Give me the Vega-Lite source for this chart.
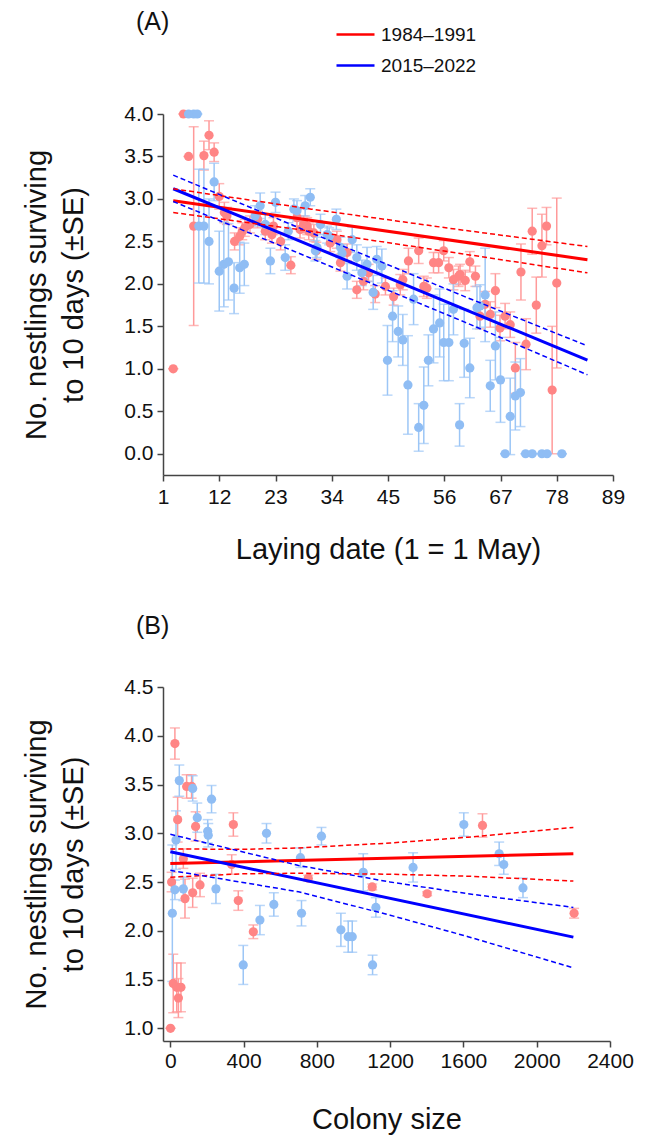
{
  "$schema": "https://vega.github.io/schema/vega-lite/v6.json",
  "background": "white",
  "padding": {"left": 22, "top": 10, "right": 10, "bottom": 5},
  "bounds": "flush",
  "spacing": 212,
  "resolve": {"scale": {"color": "independent"}},
  "config": {
    "font": "Liberation Sans",
    "view": {"stroke": null},
    "axis": {
      "grid": false,
      "domainColor": "#444",
      "tickColor": "#444",
      "domainWidth": 1.5,
      "tickWidth": 1.5,
      "tickSize": 6,
      "labelFont": "Liberation Sans",
      "labelFontSize": 21,
      "labelColor": "#111",
      "labelPadding": 4,
      "labelOverlap": false,
      "labelFlush": false,
      "titleFont": "Liberation Sans",
      "titleFontSize": 29,
      "titleFontWeight": "normal",
      "titleColor": "#111"
    },
    "title": {"font": "Liberation Sans", "fontSize": 25, "fontWeight": "normal", "anchor": "start", "frame": "group", "baseline": "middle", "color": "#111"}
  },
  "datasets": {
    "ap": [
      {"p":"r","d":3,"n":1.0,"se":0},{"p":"r","d":5,"n":4.0,"se":0},{"p":"r","d":6,"n":3.5,"se":0},{"p":"r","d":7,"n":2.68,"se":1.17},
      {"p":"r","d":9,"n":3.51,"se":0.17},{"p":"r","d":10,"n":3.75,"se":0.17},{"p":"r","d":11,"n":3.55,"se":0.11},{"p":"r","d":12,"n":3.03,"se":0.15},
      {"p":"r","d":13,"n":2.84,"se":0.12},{"p":"r","d":13.5,"n":2.8,"se":0.1},{"p":"r","d":15,"n":2.5,"se":0.1},{"p":"r","d":16,"n":2.56,"se":0.1},
      {"p":"r","d":16.5,"n":2.62,"se":0.1},{"p":"r","d":17,"n":2.66,"se":0.1},{"p":"r","d":18,"n":2.7,"se":0.1},{"p":"r","d":19.5,"n":2.76,"se":0.1},
      {"p":"r","d":21,"n":2.62,"se":0.1},{"p":"r","d":22.3,"n":2.58,"se":0.1},{"p":"r","d":22.6,"n":2.68,"se":0.1},{"p":"r","d":24,"n":2.5,"se":0.1},
      {"p":"r","d":26,"n":2.22,"se":0.1},{"p":"r","d":27.2,"n":2.78,"se":0.1},{"p":"r","d":27.8,"n":2.64,"se":0.1},{"p":"r","d":28.5,"n":2.7,"se":0.1},
      {"p":"r","d":29.2,"n":2.68,"se":0.1},{"p":"r","d":29.5,"n":2.62,"se":0.1},{"p":"r","d":30.5,"n":2.6,"se":0.1},{"p":"r","d":31,"n":2.39,"se":0.1},
      {"p":"r","d":33.7,"n":2.48,"se":0.1},{"p":"r","d":35,"n":2.52,"se":0.1},{"p":"r","d":35.7,"n":2.25,"se":0.1},{"p":"r","d":37,"n":2.37,"se":0.1},
      {"p":"r","d":38.9,"n":1.93,"se":0.1},{"p":"r","d":40.2,"n":2.03,"se":0.1},{"p":"r","d":41.2,"n":2.13,"se":0.1},{"p":"r","d":42.5,"n":1.88,"se":0.1},
      {"p":"r","d":44.5,"n":1.97,"se":0.1},{"p":"r","d":46.1,"n":1.85,"se":0.1},{"p":"r","d":47.4,"n":1.99,"se":0.12},{"p":"r","d":47.9,"n":2.05,"se":0.12},
      {"p":"r","d":49,"n":2.27,"se":0.15},{"p":"r","d":51,"n":2.39,"se":0.15},{"p":"r","d":52,"n":1.97,"se":0.12},{"p":"r","d":52.6,"n":1.95,"se":0.12},
      {"p":"r","d":53.9,"n":2.25,"se":0.12},{"p":"r","d":54.9,"n":2.25,"se":0.12},{"p":"r","d":55.9,"n":2.39,"se":0.12},{"p":"r","d":56.9,"n":2.19,"se":0.12},
      {"p":"r","d":57.8,"n":2.05,"se":0.12},{"p":"r","d":58.8,"n":2.09,"se":0.12},{"p":"r","d":59.1,"n":2.11,"se":0.12},{"p":"r","d":60.1,"n":2.04,"se":0.12},
      {"p":"r","d":61,"n":2.26,"se":0.12},{"p":"r","d":62.1,"n":2.09,"se":0.12},{"p":"r","d":63,"n":1.62,"se":0.15},{"p":"r","d":64,"n":1.76,"se":0.15},
      {"p":"r","d":65,"n":1.64,"se":0.15},{"p":"r","d":66,"n":1.92,"se":0.2},{"p":"r","d":66.9,"n":1.48,"se":0.15},{"p":"r","d":67.9,"n":1.62,"se":0.15},
      {"p":"r","d":68.9,"n":1.52,"se":0.15},{"p":"r","d":69.9,"n":1.01,"se":0.3},{"p":"r","d":71,"n":2.14,"se":0.33},{"p":"r","d":72,"n":1.29,"se":0.3},
      {"p":"r","d":73.2,"n":2.62,"se":0.27},{"p":"r","d":74,"n":1.75,"se":0.33},{"p":"r","d":75.1,"n":2.45,"se":0.37},{"p":"r","d":76,"n":2.68,"se":0.22},
      {"p":"r","d":77.1,"n":0.75,"se":0.75},{"p":"r","d":78,"n":2.01,"se":1.0},
      {"p":"b","d":6,"n":4.0,"se":0},{"p":"b","d":7,"n":4.0,"se":0},{"p":"b","d":7.7,"n":4.0,"se":0},{"p":"b","d":8,"n":2.68,"se":0.67},
      {"p":"b","d":9,"n":2.68,"se":0.67},{"p":"b","d":10,"n":2.5,"se":0.5},{"p":"b","d":11,"n":3.2,"se":0.22},{"p":"b","d":12,"n":2.15,"se":0.47},
      {"p":"b","d":12.9,"n":2.23,"se":0.5},{"p":"b","d":13.8,"n":2.26,"se":0.45},{"p":"b","d":14.9,"n":1.95,"se":0.3},{"p":"b","d":16,"n":2.19,"se":0.3},
      {"p":"b","d":16.9,"n":2.23,"se":0.25},{"p":"b","d":19,"n":2.8,"se":0.12},{"p":"b","d":20,"n":2.92,"se":0.15},{"p":"b","d":21,"n":2.7,"se":0.12},
      {"p":"b","d":22,"n":2.27,"se":0.15},{"p":"b","d":23,"n":2.96,"se":0.12},{"p":"b","d":24.9,"n":2.31,"se":0.15},{"p":"b","d":25.5,"n":2.62,"se":0.1},
      {"p":"b","d":26.6,"n":2.88,"se":0.12},{"p":"b","d":27.2,"n":2.86,"se":0.12},{"p":"b","d":28.8,"n":2.92,"se":0.12},{"p":"b","d":29.8,"n":3.02,"se":0.1},
      {"p":"b","d":30.8,"n":2.39,"se":0.12},{"p":"b","d":31.1,"n":2.43,"se":0.12},{"p":"b","d":31.8,"n":2.7,"se":0.12},{"p":"b","d":33.1,"n":2.58,"se":0.1},
      {"p":"b","d":33.5,"n":2.56,"se":0.1},{"p":"b","d":34.9,"n":2.76,"se":0.12},{"p":"b","d":35.7,"n":2.43,"se":0.12},{"p":"b","d":36,"n":2.36,"se":0.1},
      {"p":"b","d":37,"n":2.09,"se":0.15},{"p":"b","d":38,"n":2.52,"se":0.15},{"p":"b","d":38.9,"n":2.31,"se":0.15},{"p":"b","d":39.9,"n":2.13,"se":0.15},
      {"p":"b","d":40.9,"n":2.23,"se":0.2},{"p":"b","d":42.1,"n":1.9,"se":0.2},{"p":"b","d":42.8,"n":2.29,"se":0.15},{"p":"b","d":43.8,"n":2.21,"se":0.2},
      {"p":"b","d":44.9,"n":1.1,"se":0.41},{"p":"b","d":45.9,"n":1.62,"se":0.3},{"p":"b","d":47,"n":1.44,"se":0.3},{"p":"b","d":47.9,"n":1.34,"se":0.3},
      {"p":"b","d":48.9,"n":0.81,"se":0.58},{"p":"b","d":50,"n":1.82,"se":0.3},{"p":"b","d":51,"n":0.31,"se":0.28},{"p":"b","d":52,"n":0.57,"se":0.45},
      {"p":"b","d":52.9,"n":1.1,"se":0.3},{"p":"b","d":53.9,"n":1.47,"se":0.4},{"p":"b","d":55.1,"n":1.54,"se":0.4},{"p":"b","d":55.9,"n":1.31,"se":0.45},
      {"p":"b","d":56.9,"n":1.31,"se":0.45},{"p":"b","d":57.8,"n":1.7,"se":0.3},{"p":"b","d":59,"n":0.34,"se":0.25},{"p":"b","d":59.9,"n":1.3,"se":0.4},
      {"p":"b","d":61,"n":1.01,"se":0.35},{"p":"b","d":62.4,"n":1.72,"se":0.25},{"p":"b","d":63,"n":1.74,"se":0.25},{"p":"b","d":64,"n":1.87,"se":0.55},
      {"p":"b","d":65,"n":0.8,"se":0.3},{"p":"b","d":66,"n":1.27,"se":0.4},{"p":"b","d":67,"n":0.87,"se":0.5},{"p":"b","d":67.9,"n":0,"se":0},
      {"p":"b","d":68.9,"n":0.44,"se":0.45},{"p":"b","d":69.9,"n":0.68,"se":0.4},{"p":"b","d":70.9,"n":0.72,"se":0.4},{"p":"b","d":71.9,"n":0,"se":0},
      {"p":"b","d":73.2,"n":0,"se":0},{"p":"b","d":75.1,"n":0,"se":0},{"p":"b","d":76.1,"n":0,"se":0},{"p":"b","d":79,"n":0,"se":0}
    ],
    "af": [
      {"p":"1984–1991","k":"fit","d":3,"n":2.98},{"p":"1984–1991","k":"fit","d":84,"n":2.285},
      {"p":"1984–1991","k":"up","d":3,"n":3.12},{"p":"1984–1991","k":"up","d":30,"n":2.88},{"p":"1984–1991","k":"up","d":60,"n":2.63},{"p":"1984–1991","k":"up","d":84,"n":2.44},
      {"p":"1984–1991","k":"lo","d":3,"n":2.84},{"p":"1984–1991","k":"lo","d":30,"n":2.62},{"p":"1984–1991","k":"lo","d":60,"n":2.35},{"p":"1984–1991","k":"lo","d":84,"n":2.13},
      {"p":"2015–2022","k":"fit","d":3,"n":3.12},{"p":"2015–2022","k":"fit","d":84,"n":1.103},
      {"p":"2015–2022","k":"up","d":3,"n":3.28},{"p":"2015–2022","k":"up","d":30,"n":2.6},{"p":"2015–2022","k":"up","d":60,"n":1.85},{"p":"2015–2022","k":"up","d":84,"n":1.27},
      {"p":"2015–2022","k":"lo","d":3,"n":2.97},{"p":"2015–2022","k":"lo","d":30,"n":2.3},{"p":"2015–2022","k":"lo","d":60,"n":1.55},{"p":"2015–2022","k":"lo","d":84,"n":0.93}
    ],
    "bp": [
      {"p":"r","s":25,"n":3.92,"se":0.16},{"p":"r","s":89,"n":3.48,"se":0.12},{"p":"r","s":116,"n":3.48,"se":0.12},{"p":"r","s":40,"n":3.14,"se":0.23},
      {"p":"r","s":138,"n":3.07,"se":0.15},{"p":"r","s":344,"n":3.09,"se":0.12},{"p":"r","s":7,"n":2.5,"se":0.1},{"p":"r","s":80,"n":2.33,"se":0.2},
      {"p":"r","s":122,"n":2.39,"se":0.15},{"p":"r","s":162,"n":2.47,"se":0.12},{"p":"r","s":71,"n":2.74,"se":0.1},{"p":"r","s":335,"n":2.68,"se":0.1},
      {"p":"r","s":371,"n":2.31,"se":0.1},{"p":"r","s":453,"n":1.99,"se":0.07},{"p":"r","s":753,"n":2.54,"se":0.03},{"p":"r","s":1102,"n":2.45,"se":0.03},
      {"p":"r","s":1402,"n":2.38,"se":0.02},{"p":"r","s":1704,"n":3.08,"se":0.12},{"p":"r","s":2204,"n":2.18,"se":0.05},{"p":"r","s":16,"n":1.46,"se":0.3},
      {"p":"r","s":35,"n":1.42,"se":0.25},{"p":"r","s":58,"n":1.42,"se":0.25},{"p":"r","s":44,"n":1.31,"se":0.2},{"p":"r","s":1,"n":1.0,"se":0},
      {"p":"b","s":49,"n":3.54,"se":0.16},{"p":"b","s":122,"n":3.46,"se":0.13},{"p":"b","s":225,"n":3.35,"se":0.14},{"p":"b","s":147,"n":3.16,"se":0.15},
      {"p":"b","s":204,"n":3.02,"se":0.12},{"p":"b","s":207,"n":2.98,"se":0.12},{"p":"b","s":525,"n":3.0,"se":0.1},{"p":"b","s":31,"n":2.93,"se":0.3},
      {"p":"b","s":710,"n":2.75,"se":0.1},{"p":"b","s":825,"n":2.97,"se":0.09},{"p":"b","s":25,"n":2.42,"se":0.1},{"p":"b","s":71,"n":2.43,"se":0.12},
      {"p":"b","s":249,"n":2.43,"se":0.15},{"p":"b","s":11,"n":2.18,"se":0.7},{"p":"b","s":398,"n":1.65,"se":0.2},{"p":"b","s":489,"n":2.11,"se":0.15},
      {"p":"b","s":565,"n":2.27,"se":0.12},{"p":"b","s":716,"n":2.18,"se":0.13},{"p":"b","s":931,"n":2.01,"se":0.17},{"p":"b","s":971,"n":1.94,"se":0.16},
      {"p":"b","s":993,"n":1.94,"se":0.16},{"p":"b","s":1053,"n":2.6,"se":0.19},{"p":"b","s":1104,"n":1.65,"se":0.1},{"p":"b","s":1122,"n":2.24,"se":0.1},
      {"p":"b","s":1325,"n":2.65,"se":0.15},{"p":"b","s":1602,"n":3.09,"se":0.12},{"p":"b","s":1795,"n":2.79,"se":0.12},{"p":"b","s":1820,"n":2.68,"se":0.1},
      {"p":"b","s":1925,"n":2.44,"se":0.1}
    ],
    "bf": [
      {"p":"1984–1991","k":"fit","s":0,"n":2.69},{"p":"1984–1991","k":"fit","s":2200,"n":2.79},
      {"p":"1984–1991","k":"up","s":0,"n":2.84},{"p":"1984–1991","k":"up","s":400,"n":2.835},{"p":"1984–1991","k":"up","s":700,"n":2.85},{"p":"1984–1991","k":"up","s":1200,"n":2.9},{"p":"1984–1991","k":"up","s":1625,"n":2.96},{"p":"1984–1991","k":"up","s":2200,"n":3.06},
      {"p":"1984–1991","k":"lo","s":0,"n":2.55},{"p":"1984–1991","k":"lo","s":400,"n":2.585},{"p":"1984–1991","k":"lo","s":700,"n":2.59},{"p":"1984–1991","k":"lo","s":1200,"n":2.58},{"p":"1984–1991","k":"lo","s":1625,"n":2.56},{"p":"1984–1991","k":"lo","s":2200,"n":2.51},
      {"p":"2015–2022","k":"fit","s":0,"n":2.81},{"p":"2015–2022","k":"fit","s":2200,"n":1.935},
      {"p":"2015–2022","k":"up","s":0,"n":2.99},{"p":"2015–2022","k":"up","s":700,"n":2.67},{"p":"2015–2022","k":"up","s":1200,"n":2.5},{"p":"2015–2022","k":"up","s":1625,"n":2.38},{"p":"2015–2022","k":"up","s":2200,"n":2.24},
      {"p":"2015–2022","k":"lo","s":0,"n":2.62},{"p":"2015–2022","k":"lo","s":700,"n":2.4},{"p":"2015–2022","k":"lo","s":1200,"n":2.16},{"p":"2015–2022","k":"lo","s":1625,"n":1.94},{"p":"2015–2022","k":"lo","s":2200,"n":1.62}
    ]
  },
  "vconcat": [
    {
      "width": 450,
      "height": 361,
      "title": {"text": "(A)", "offset": -21, "dx": -27},
      "encoding": {
        "x": {"field": "d", "type": "quantitative", "scale": {"domain": [1, 89], "nice": false, "zero": false},
              "axis": {"values": [1, 12, 23, 34, 45, 56, 67, 78, 89], "title": "Laying date (1 = 1 May)", "titlePadding": 28, "labelPadding": 5}},
        "y": {"field": "n", "type": "quantitative", "scale": {"domain": [-0.25, 4], "nice": false, "zero": false},
              "axis": {"values": [0, 0.5, 1, 1.5, 2, 2.5, 3, 3.5, 4], "format": ".1f", "title": ["No. nestlings surviving", "to 10 days (±SE)"], "titlePadding": 35, "titleLineHeight": 37}}
      },
      "layer": [
        {"data": {"name": "ap"}, "transform": [{"filter": "datum.p == 'r'"}],
         "mark": {"type": "errorbar", "color": "#ff9a9a", "thickness": 1.5, "ticks": {"size": 10, "thickness": 1.5}},
         "encoding": {"yError": {"field": "se"}}},
        {"data": {"name": "ap"}, "transform": [{"filter": "datum.p == 'b'"}],
         "mark": {"type": "errorbar", "color": "#9cc6f6", "thickness": 1.5, "ticks": {"size": 10, "thickness": 1.5}},
         "encoding": {"yError": {"field": "se"}}},
        {"data": {"name": "ap"}, "transform": [{"filter": "datum.p == 'r'"}],
         "mark": {"type": "circle", "size": 85, "opacity": 1, "color": "#ff8585"}},
        {"data": {"name": "ap"}, "transform": [{"filter": "datum.p == 'b'"}],
         "mark": {"type": "circle", "size": 85, "opacity": 1, "color": "#8fbdf4"}},
        {"data": {"name": "af"}, "transform": [{"filter": "datum.k == 'fit'"}],
         "mark": {"type": "line", "strokeWidth": 3},
         "encoding": {"color": {"field": "p", "type": "nominal",
           "scale": {"domain": ["1984–1991", "2015–2022"], "range": ["#ff0000", "#0000ff"]},
           "legend": {"orient": "none", "legendX": 172, "legendY": -100, "title": null, "direction": "vertical",
             "symbolType": "stroke", "symbolSize": 1444, "symbolStrokeWidth": 2.5, "labelFont": "Liberation Sans",
             "labelFontSize": 19, "labelColor": "#111", "labelOffset": 5, "rowPadding": 0, "padding": 0}}}},
        {"data": {"name": "af"}, "transform": [{"filter": "datum.k != 'fit'"}],
         "mark": {"type": "line", "strokeWidth": 1.5, "strokeDash": [5, 3]},
         "encoding": {"color": {"field": "p", "type": "nominal"}, "detail": {"field": "k"}}}
      ]
    },
    {
      "width": 447,
      "height": 354,
      "title": {"text": "(B)", "offset": 37, "dx": -27},
      "encoding": {
        "x": {"field": "s", "type": "quantitative", "scale": {"domain": [-40, 2400], "nice": false, "zero": false},
              "axis": {"values": [0, 400, 800, 1200, 1600, 2000, 2400], "format": "d", "title": "Colony size", "titlePadding": 34, "labelPadding": 3}},
        "y": {"field": "n", "type": "quantitative", "scale": {"domain": [0.87, 4.5], "nice": false, "zero": false},
              "axis": {"values": [1, 1.5, 2, 2.5, 3, 3.5, 4, 4.5], "format": ".1f", "title": ["No. nestlings surviving", "to 10 days (±SE)"], "titlePadding": 35, "titleLineHeight": 37}}
      },
      "layer": [
        {"data": {"name": "bp"}, "transform": [{"filter": "datum.p == 'r'"}],
         "mark": {"type": "errorbar", "color": "#ff9a9a", "thickness": 1.5, "ticks": {"size": 10, "thickness": 1.5}},
         "encoding": {"yError": {"field": "se"}}},
        {"data": {"name": "bp"}, "transform": [{"filter": "datum.p == 'b'"}],
         "mark": {"type": "errorbar", "color": "#9cc6f6", "thickness": 1.5, "ticks": {"size": 10, "thickness": 1.5}},
         "encoding": {"yError": {"field": "se"}}},
        {"data": {"name": "bp"}, "transform": [{"filter": "datum.p == 'r'"}],
         "mark": {"type": "circle", "size": 85, "opacity": 1, "color": "#ff8585"}},
        {"data": {"name": "bp"}, "transform": [{"filter": "datum.p == 'b'"}],
         "mark": {"type": "circle", "size": 85, "opacity": 1, "color": "#8fbdf4"}},
        {"data": {"name": "bf"}, "transform": [{"filter": "datum.k == 'fit'"}],
         "mark": {"type": "line", "strokeWidth": 3},
         "encoding": {"color": {"field": "p", "type": "nominal",
           "scale": {"domain": ["1984–1991", "2015–2022"], "range": ["#ff0000", "#0000ff"]}, "legend": null}}},
        {"data": {"name": "bf"}, "transform": [{"filter": "datum.k != 'fit'"}],
         "mark": {"type": "line", "strokeWidth": 1.5, "strokeDash": [5, 3]},
         "encoding": {"color": {"field": "p", "type": "nominal", "legend": null}, "detail": {"field": "k"}}}
      ]
    }
  ]
}
